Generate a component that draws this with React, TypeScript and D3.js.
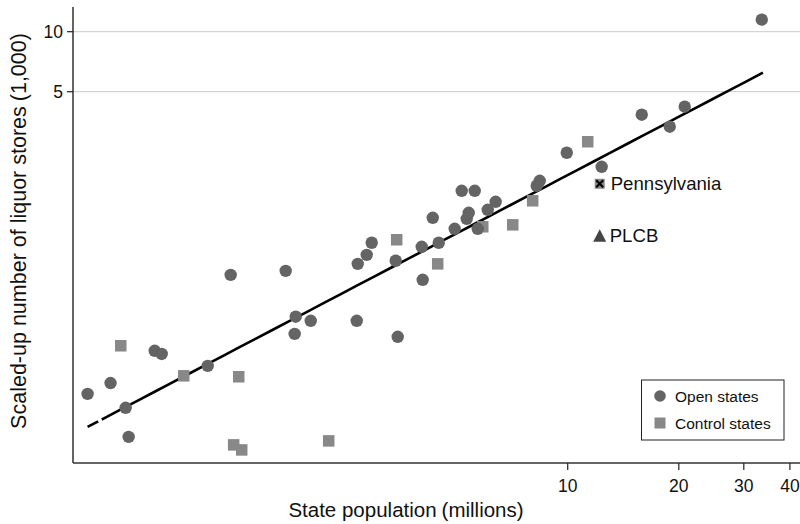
import React from "react";
import * as d3 from "d3";

// Open states: population (millions) and scaled-up liquor stores (1,000)
const openPop = [0.5, 0.577, 0.634, 0.646, 0.76, 0.794, 1.058, 1.221, 1.721, 1.832, 2.012, 1.82, 2.698, 2.853, 2.943, 2.681, 3.419, 3.462, 4.022, 4.046, 4.472, 4.308, 4.94, 5.161, 5.598, 5.325, 5.392, 5.704, 6.07, 6.379, 8.242, 8.398, 9.94, 12.36, 15.87, 18.9, 20.75, 33.56];
const openStores = [0.1526, 0.173, 0.13, 0.0929, 0.251, 0.242, 0.211, 0.603, 0.632, 0.372, 0.355, 0.305, 0.685, 0.76, 0.874, 0.355, 0.71, 0.295, 0.834, 0.57, 0.874, 1.166, 1.027, 1.593, 1.593, 1.153, 1.235, 1.027, 1.279, 1.403, 1.688, 1.788, 2.471, 2.102, 3.834, 3.337, 4.204, 11.49];

// Control states
const ctrlPop = [0.615, 0.911, 1.284, 1.244, 1.308, 2.251, 3.44, 4.443, 5.885, 7.096, 8.036, 11.33];
const ctrlStores = [0.266, 0.188, 0.186, 0.0847, 0.0799, 0.0887, 0.905, 0.685, 1.051, 1.075, 1.419, 2.806];

// Highlighted points
const paPop = 12.21;
const paStores = 1.727;
const plcbStores = 0.947;

// Fitted log-log line
const fitRange = [0.5, 33.8];
const fitIntercept = -0.6898;
const fitSlope = 0.9708;

const xTicks = [10, 20, 30, 40];
const yTicks = [5, 10];

const W = 800;
const H = 524;
const left = 73;
const right = 800;
const top = 7;
const bottom = 463;

const FONT = "'Liberation Sans', Arial, Helvetica, sans-serif";
const OPEN_COL = "#646464";
const CTRL_COL = "#888888";

export default function App() {
  const x = d3.scaleLog().domain([0.4565, 42.6]).range([left, right]);
  const y = d3.scaleLog().domain([0.0687, 13.3]).range([bottom, top]);

  const fitPts: [number, number][] = d3
    .range(0, 41)
    .map((i) => {
      const lp = Math.log10(fitRange[0]) + (i / 40) * (Math.log10(fitRange[1]) - Math.log10(fitRange[0]));
      const p = Math.pow(10, lp);
      const v = Math.pow(10, fitIntercept + fitSlope * lp);
      return [x(p), y(v)] as [number, number];
    });
  const line = d3.line()(fitPts) || "";

  const sq = 11.5;
  const paX = x(paPop);
  const paY = y(paStores);
  const plX = x(paPop);
  const plY = y(plcbStores);

  return (
    <svg
      width={W}
      height={H}
      style={{ position: "absolute", left: 0, top: 0, background: "#fff" }}
      fontFamily={FONT}
    >
      {/* gridlines */}
      {yTicks.map((t) => (
        <line key={"g" + t} x1={left} x2={right} y1={y(t)} y2={y(t)} stroke="#d4d4d4" strokeWidth={1.3} />
      ))}

      {/* axes */}
      <line x1={left} x2={left} y1={top} y2={bottom} stroke="#222" strokeWidth={1.4} />
      <line x1={left} x2={right} y1={bottom} y2={bottom} stroke="#333" strokeWidth={1.4} />
      {yTicks.map((t) => (
        <g key={"yt" + t}>
          <line x1={left - 6} x2={left} y1={y(t)} y2={y(t)} stroke="#222" strokeWidth={1.2} />
          <text x={left - 10} y={y(t)} textAnchor="end" dominantBaseline="central" fontSize={17.5} fill="#111">
            {t}
          </text>
        </g>
      ))}
      {xTicks.map((t) => (
        <g key={"xt" + t}>
          <line x1={x(t)} x2={x(t)} y1={bottom} y2={bottom + 7} stroke="#222" strokeWidth={1.2} />
          <text x={x(t)} y={491.5} textAnchor="middle" fontSize={17.5} fill="#111">
            {t}
          </text>
        </g>
      ))}

      {/* axis titles */}
      <text x={406} y={516.5} textAnchor="middle" fontSize={20.5} fill="#111">
        State population<tspan dx={5}>(millions)</tspan>
      </text>
      <text
        transform={`translate(26, 231) rotate(-90)`}
        textAnchor="middle"
        fontSize={21.5}
        fill="#111"
      >
        Scaled-up number of liquor stores<tspan dx={5}>(1,000)</tspan>
      </text>

      {/* fit line */}
      <path d={line} fill="none" stroke="#000" strokeWidth={2.6} strokeDasharray="12 4 2000" />

      {/* points */}
      {ctrlPop.map((p, i) => (
        <rect
          key={"c" + i}
          x={x(p) - sq / 2}
          y={y(ctrlStores[i]) - sq / 2}
          width={sq}
          height={sq}
          fill={CTRL_COL}
        />
      ))}
      {openPop.map((p, i) => (
        <circle key={"o" + i} cx={x(p)} cy={y(openStores[i])} r={6.2} fill={OPEN_COL} />
      ))}

      {/* Pennsylvania */}
      <rect x={paX - 5} y={paY - 5} width={10} height={10} fill={CTRL_COL} />
      <path
        d={`M${paX - 3.5},${paY - 3.5}L${paX + 3.5},${paY + 3.5}M${paX + 3.5},${paY - 3.5}L${paX - 3.5},${paY + 3.5}`}
        stroke="#000"
        strokeWidth={2}
      />
      <text x={paX + 11} y={paY} dominantBaseline="central" fontSize={18.6} fill="#111">
        Pennsylvania
      </text>

      {/* PLCB */}
      <path
        d={`M${plX},${plY - 6.5}L${plX + 6.5},${plY + 6}L${plX - 6.5},${plY + 6}Z`}
        fill="#444"
      />
      <text x={plX + 10} y={plY} dominantBaseline="central" fontSize={18.6} fill="#111">
        PLCB
      </text>

      {/* legend */}
      <rect x={641.5} y={380} width={142.5} height={60} fill="#fff" stroke="#222" strokeWidth={1} />
      <circle cx={660} cy={396} r={5.8} fill={OPEN_COL} />
      <text x={675} y={396} dominantBaseline="central" fontSize={15.5} fill="#111">
        Open states
      </text>
      <rect x={660 - 5.5} y={423 - 5.5} width={11} height={11} fill={CTRL_COL} />
      <text x={675} y={423} dominantBaseline="central" fontSize={15.5} fill="#111">
        Control states
      </text>
    </svg>
  );
}
